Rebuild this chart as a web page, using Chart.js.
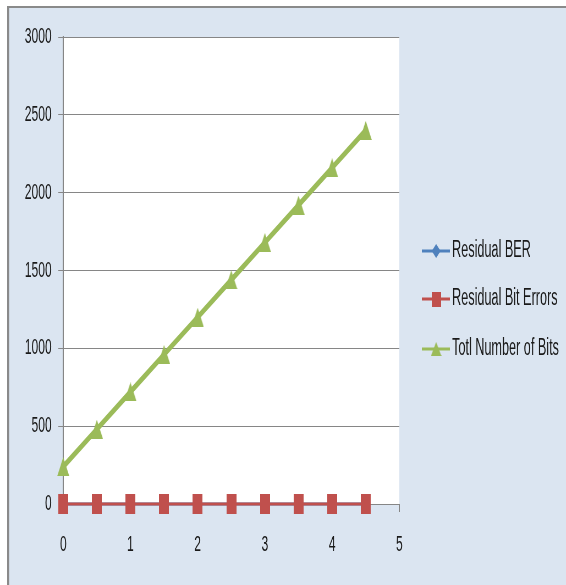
<!DOCTYPE html>
<html>
<head>
<meta charset="utf-8">
<script src="https://cdn.jsdelivr.net/npm/chart.js@4/dist/chart.umd.min.js"></script>
<style>
  html, body { margin: 0; padding: 0; background: #fff; overflow: hidden; }
  #wrap { width: 566px; height: 585px; overflow: hidden; }
  /* the chart is drawn wide, then narrowed to the page width */
  #inner { width: 1029px; height: 585px; transform: scaleX(0.55); transform-origin: 0 0; }
</style>
</head>
<body>
<div id="wrap"><div id="inner"><canvas id="chart" width="1029" height="585"></canvas></div></div>
<script>
// Series data
const xValues = [0, 0.5, 1, 1.5, 2, 2.5, 3, 3.5, 4, 4.5];
const residualBer = [0, 0, 0, 0, 0, 0, 0, 0, 0, 0];
const residualBitErrors = [0, 0, 0, 0, 0, 0, 0, 0, 0, 0];
const totalBits = [240, 480, 720, 960, 1200, 1440, 1680, 1920, 2160, 2400];
const seriesNames = ['Residual BER', 'Residual Bit Errors', 'Totl Number of Bits'];

const yTicks = { min: 0, max: 3000, step: 500 };
const xTicks = { min: 0, max: 5, step: 1 };

const COLORS = { blue: '#4f81bd', red: '#c0504d', green: '#9bbb59' };
const FONT = '"Liberation Sans", Arial, sans-serif';
const TEXT = '#1a1a1a';
const AXIS = '#868686';

// Marker images
const makeMarker = (w, h, color, shape) => {
  const c = document.createElement('canvas');
  c.width = w; c.height = h;
  const g = c.getContext('2d');
  g.fillStyle = color;
  g.beginPath();
  if (shape === 'rect') {
    g.rect(0, 0, w, h);
  } else if (shape === 'triangle') {
    g.moveTo(w / 2, 0); g.lineTo(w, h); g.lineTo(0, h);
  } else {
    g.moveTo(w / 2, 0); g.lineTo(w, h / 2); g.lineTo(w / 2, h); g.lineTo(0, h / 2);
  }
  g.closePath();
  g.fill();
  return c;
};

const diamondMark = makeMarker(18, 16, COLORS.blue, 'diamond');
const rectMark = makeMarker(18, 20, COLORS.red, 'rect');
const triMark = makeMarker(22, 19, COLORS.green, 'triangle');

const toPoints = (ys) => ys.map((y, i) => ({ x: xValues[i], y }));

// Background panel with grey frame
const panelPlugin = {
  id: 'panel',
  beforeDraw(chart) {
    const { ctx, width, height } = chart;
    ctx.save();
    ctx.fillStyle = '#fff';
    ctx.fillRect(0, 0, width, height);
    ctx.fillStyle = '#dbe5f1';
    ctx.fillRect(16, 7, width - 16, height - 7);
    ctx.fillStyle = '#fff';
    const a = chart.chartArea;
    ctx.fillRect(a.left, a.top, a.right - a.left, a.bottom - a.top);
    ctx.fillStyle = '#8a8a8a';
    ctx.fillRect(13, 6, width, 2);
    ctx.fillRect(13, 6, 3.6, height);
    ctx.restore();
  }
};

// Legend on the right: line with marker, then label
const legendPlugin = {
  id: 'sideLegend',
  afterDraw(chart) {
    const { ctx } = chart;
    const items = [
      { color: COLORS.blue, mark: makeMarker(16, 14, COLORS.blue, 'diamond'), y: 251 },
      { color: COLORS.red, mark: makeMarker(17, 15, COLORS.red, 'rect'), y: 299 },
      { color: COLORS.green, mark: makeMarker(19, 14, COLORS.green, 'triangle'), y: 349 }
    ];
    ctx.save();
    items.forEach((item, i) => {
      ctx.strokeStyle = item.color;
      ctx.lineWidth = 3;
      ctx.beginPath();
      ctx.moveTo(767, item.y);
      ctx.lineTo(818, item.y);
      ctx.stroke();
      ctx.drawImage(item.mark, 793 - item.mark.width / 2, item.y - item.mark.height / 2);
      ctx.fillStyle = TEXT;
      ctx.font = '23px ' + FONT;
      ctx.textBaseline = 'middle';
      ctx.fillText(seriesNames[i], 822, item.y);
    });
    ctx.restore();
  }
};

new Chart(document.getElementById('chart'), {
  type: 'line',
  data: {
    datasets: [
      {
        label: seriesNames[0],
        data: toPoints(residualBer),
        borderColor: COLORS.blue,
        borderWidth: 3,
        pointStyle: diamondMark,
        order: 3,
        clip: false
      },
      {
        label: seriesNames[1],
        data: toPoints(residualBitErrors),
        borderColor: COLORS.red,
        borderWidth: 3,
        pointStyle: rectMark,
        order: 2,
        clip: false
      },
      {
        label: seriesNames[2],
        data: toPoints(totalBits),
        borderColor: COLORS.green,
        borderWidth: 6,
        pointStyle: triMark,
        order: 1,
        clip: false
      }
    ]
  },
  options: {
    responsive: false,
    animation: false,
    layout: { padding: { left: 0, top: 37, right: 303, bottom: 0 } },
    plugins: {
      legend: { display: false },
      tooltip: { enabled: false }
    },
    scales: {
      x: {
        type: 'linear',
        min: xTicks.min,
        max: xTicks.max,
        ticks: {
          stepSize: xTicks.step,
          padding: 20,
          color: TEXT,
          font: { family: FONT, size: 22 },
          maxRotation: 0
        },
        grid: { drawOnChartArea: false, tickLength: 8, color: AXIS, lineWidth: 2 },
        border: { color: AXIS, width: 1 },
        afterFit(scale) { scale.height = 81; }
      },
      y: {
        min: yTicks.min,
        max: yTicks.max,
        ticks: {
          stepSize: yTicks.step,
          padding: 12,
          color: TEXT,
          font: { family: FONT, size: 22 },
          callback: (v) => String(v)
        },
        grid: { color: AXIS, tickLength: 9 },
        border: { color: AXIS, width: 2 },
        afterFit(scale) { scale.width = 115; }
      }
    }
  },
  plugins: [panelPlugin, legendPlugin]
});
</script>
</body>
</html>
